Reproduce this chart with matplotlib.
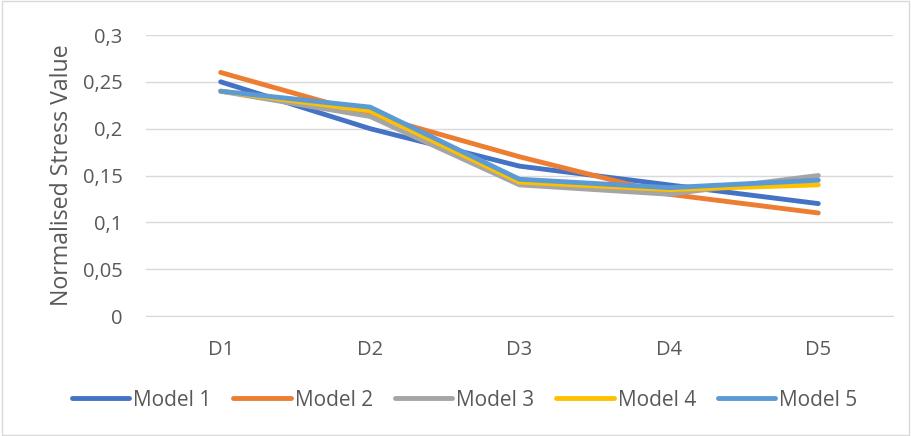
import matplotlib.pyplot as plt
from matplotlib.ticker import FuncFormatter

categories = ['D1', 'D2', 'D3', 'D4', 'D5']
model1 = [0.25, 0.20, 0.16, 0.14, 0.12]
model2 = [0.26, 0.215, 0.17, 0.13, 0.11]
model3 = [0.24, 0.213, 0.14, 0.13, 0.15]
model4 = [0.24, 0.219, 0.143, 0.135, 0.14]
model5 = [0.24, 0.223, 0.146, 0.137, 0.145]
names = ['Model 1', 'Model 2', 'Model 3', 'Model 4', 'Model 5']
colori = ['#4472C4', '#ED7D31', '#A5A5A5', '#FFC000', '#5B9BD5']

plt.rcParams['font.family'] = ['Open Sans', 'DejaVu Sans']
testo = '#595959'

fig = plt.figure(figsize=(9.11, 4.36), dpi=100)
ax = fig.add_axes([146/911, 1 - 316/436, 747/911, 281/436])

x = list(range(len(categories)))
for serie, nome, c in zip([model1, model2, model3, model4, model5], names, colori):
    ax.plot(x, serie, color=c, lw=3.5, label=nome, solid_capstyle='round', solid_joinstyle='round')

ax.set_xlim(-0.5, 4.5)
ax.set_ylim(0, 0.3)
ax.set_yticks([0, 0.05, 0.1, 0.15, 0.2, 0.25, 0.3])
ax.yaxis.set_major_formatter(FuncFormatter(lambda v, p: ('%g' % round(v, 2)).replace('.', ',')))
ax.set_xticks(x)
ax.set_xticklabels(categories)
ax.grid(axis='y', color='#D9D9D9', lw=1)
ax.set_axisbelow(True)
for s in ['top', 'right', 'left']:
    ax.spines[s].set_visible(False)
ax.spines['bottom'].set_color('#D9D9D9')
ax.tick_params(length=0, labelsize=14.5, labelcolor=testo)
ax.tick_params(axis='x', pad=17)
ax.tick_params(axis='y', pad=17)
ax.set_ylabel('Normalised Stress Value', fontsize=16.7, color=testo, labelpad=6)

fig.legend(loc='center', bbox_to_anchor=(0.51, 1 - 400/436), ncol=5, frameon=False,
           fontsize=15, labelcolor=testo, handlelength=2.75, handletextpad=0.2, columnspacing=1.05)

bordo = plt.Rectangle((0.002, 0.002), 0.996, 0.996, transform=fig.transFigure,
                      fill=False, edgecolor='#D9D9D9', lw=1)
fig.patches.append(bordo)

fig.savefig('out.png', dpi=100)
